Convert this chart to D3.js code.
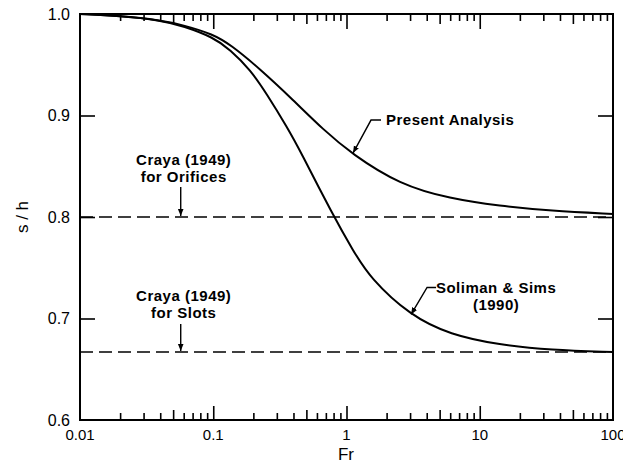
<!DOCTYPE html>
<html>
<head>
<meta charset="utf-8">
<script src="https://cdn.jsdelivr.net/npm/d3@7"></script>
<style>
  body { margin: 0; background: #fff; }
  svg text { font-family: "Liberation Sans", Arial, sans-serif; fill: #000; }
</style>
</head>
<body>
<svg id="chart" width="623" height="465"></svg>
<script>
// values
var presentFr = [0.01, 0.02, 0.04, 0.06, 0.1, 0.134, 0.224, 0.4, 0.67, 1.1, 2.5, 6, 14, 34, 100];
var presentSh = [1.0, 0.998, 0.994, 0.989, 0.980, 0.970, 0.946, 0.915, 0.886, 0.862, 0.832, 0.818, 0.811, 0.806, 0.803];

var solimanFr = [0.01, 0.02, 0.04, 0.06, 0.1, 0.134, 0.19, 0.25, 0.36, 0.45, 0.79, 1.12, 1.5, 3.0, 6, 14, 34, 100];
var solimanSh = [1.0, 0.998, 0.994, 0.988, 0.977, 0.965, 0.945, 0.922, 0.888, 0.865, 0.802, 0.767, 0.740, 0.703, 0.684, 0.674, 0.669, 0.667];

var crayaOrifices = 0.8;
var crayaSlots = 0.667;

var xMajor = [0.01, 0.1, 1, 10, 100];
var xTickLabels = ["0.01", "0.1", "1", "10", "100"];
var yTicks = [0.6, 0.7, 0.8, 0.9, 1.0];
var yTickLabels = ["0.6", "0.7", "0.8", "0.9", "1.0"];

var svg = d3.select("#chart");
var mLeft = 80, mTop = 14, mRight = 613, mBottom = 420;

var x = d3.scaleLog().domain([0.01, 100]).range([mLeft, mRight]);
var y = d3.scaleLinear().domain([0.6, 1.0]).range([mBottom, mTop]);

var defs = svg.append("defs");
defs.append("marker")
    .attr("id", "arrow")
    .attr("viewBox", "0 0 10 10")
    .attr("refX", 10).attr("refY", 5)
    .attr("markerWidth", 7).attr("markerHeight", 7)
    .attr("markerUnits", "userSpaceOnUse")
    .attr("orient", "auto")
  .append("path")
    .attr("d", "M0,1 L10,5 L0,9 Z")
    .attr("fill", "#000");

// minor tick values (2..9 per decade)
var xMinor = [], xFive = [];
xMajor.slice(0, -1).forEach(function(d) {
  for (var k = 2; k <= 9; k++) {
    if (k == 5) xFive.push(d * k); else xMinor.push(d * k);
  }
});

function tickAxis(axis, vals, size, tx, ty) {
  var g = svg.append("g")
      .attr("transform", "translate(" + tx + "," + ty + ")")
      .call(axis.tickValues(vals).tickSize(size).tickSizeOuter(0).tickFormat(""));
  g.select(".domain").remove();
  g.selectAll("line").attr("stroke", "#000").attr("stroke-width", 1.6);
  return g;
}

// bottom ticks pointing up
tickAxis(d3.axisBottom(x), xMinor, -7, 0, mBottom);
tickAxis(d3.axisBottom(x), xFive, -10, 0, mBottom);
tickAxis(d3.axisBottom(x), xMajor.slice(1, -1), -14, 0, mBottom);
// top ticks pointing down
tickAxis(d3.axisTop(x), xMinor, -7, 0, mTop);
tickAxis(d3.axisTop(x), xFive, -10, 0, mTop);
tickAxis(d3.axisTop(x), xMajor.slice(1, -1), -15, 0, mTop);
// y ticks on both sides
tickAxis(d3.axisLeft(y), yTicks.slice(1, -1), -15, mLeft, 0);
tickAxis(d3.axisRight(y), yTicks.slice(1, -1), -15, mRight, 0);

// frame
svg.append("rect")
    .attr("x", mLeft).attr("y", mTop)
    .attr("width", mRight - mLeft).attr("height", mBottom - mTop)
    .attr("fill", "none").attr("stroke", "#000").attr("stroke-width", 2);

// tick labels
svg.selectAll(".xlab")
  .data(xMajor)
  .enter().append("text")
    .attr("class", "xlab")
    .attr("x", function(d) { return x(d); })
    .attr("y", 440)
    .attr("text-anchor", "middle")
    .attr("font-size", 15)
    .text(function(d, i) { return xTickLabels[i]; });

svg.selectAll(".ylab")
  .data(yTicks)
  .enter().append("text")
    .attr("class", "ylab")
    .attr("x", 70)
    .attr("y", function(d) { return y(d); })
    .attr("dy", "0.36em")
    .attr("text-anchor", "end")
    .attr("font-size", 16)
    .text(function(d, i) { return yTickLabels[i]; });

svg.append("text")
    .attr("x", 346).attr("y", 460)
    .attr("text-anchor", "middle")
    .attr("font-size", 17)
    .text("Fr");

svg.append("text")
    .attr("transform", "translate(28," + y(0.8) + ") rotate(-90)")
    .attr("text-anchor", "middle")
    .attr("font-size", 17)
    .text("s / h");

// Craya limits
[crayaOrifices, crayaSlots].forEach(function(v) {
  svg.append("line")
      .attr("x1", x(0.01)).attr("x2", x(100))
      .attr("y1", y(v)).attr("y2", y(v))
      .attr("stroke", "#000").attr("stroke-width", 1.6)
      .attr("stroke-dasharray", "13,6");
});

// curves
var line = d3.line()
    .x(function(d) { return x(d[0]); })
    .y(function(d) { return y(d[1]); })
    .curve(d3.curveBasis);

svg.append("path")
    .datum(d3.zip(presentFr, presentSh))
    .attr("d", line)
    .attr("fill", "none").attr("stroke", "#000").attr("stroke-width", 2);

svg.append("path")
    .datum(d3.zip(solimanFr, solimanSh))
    .attr("d", line)
    .attr("fill", "none").attr("stroke", "#000").attr("stroke-width", 2);

// annotations
function leader(pts) {
  svg.append("path")
      .attr("d", d3.line()(pts))
      .attr("fill", "none").attr("stroke", "#000").attr("stroke-width", 1.4)
      .attr("marker-end", "url(#arrow)");
}

function label(lines, cx, cy, anchor) {
  var t = svg.append("text")
      .attr("x", cx).attr("y", cy)
      .attr("text-anchor", anchor)
      .attr("font-size", 15)
      .attr("letter-spacing", 0.5)
      .attr("font-weight", "bold");
  lines.forEach(function(s, i) {
    t.append("tspan").attr("x", cx).attr("dy", i ? 17 : 0).text(s);
  });
}

// Present Analysis
var pa = [x(1.1), y(0.862)];
leader([[pa[0] + 29, pa[1] - 34], [pa[0] + 19, pa[1] - 34], [pa[0] + 1, pa[1] - 1]]);
label(["Present Analysis"], pa[0] + 34, pa[1] - 29, "start");

// Soliman & Sims
var ss = [x(3.0), y(0.703)];
leader([[ss[0] + 26, ss[1] - 28], [ss[0] + 17, ss[1] - 28], [ss[0] + 1, ss[1] - 1]]);
label(["Soliman & Sims", "(1990)"], ss[0] + 86, ss[1] - 22, "middle");

// Craya orifices
var co = [x(0.057), y(crayaOrifices)];
leader([[co[0], co[1] - 30], [co[0], co[1] - 1]]);
label(["Craya (1949)", "for Orifices"], co[0] + 3, co[1] - 52, "middle");

// Craya slots
var cs = [x(0.057), y(crayaSlots)];
leader([[cs[0], cs[1] - 28], [cs[0], cs[1] - 1]]);
label(["Craya (1949)", "for Slots"], cs[0] + 3, cs[1] - 51, "middle");
</script>
</body>
</html>
